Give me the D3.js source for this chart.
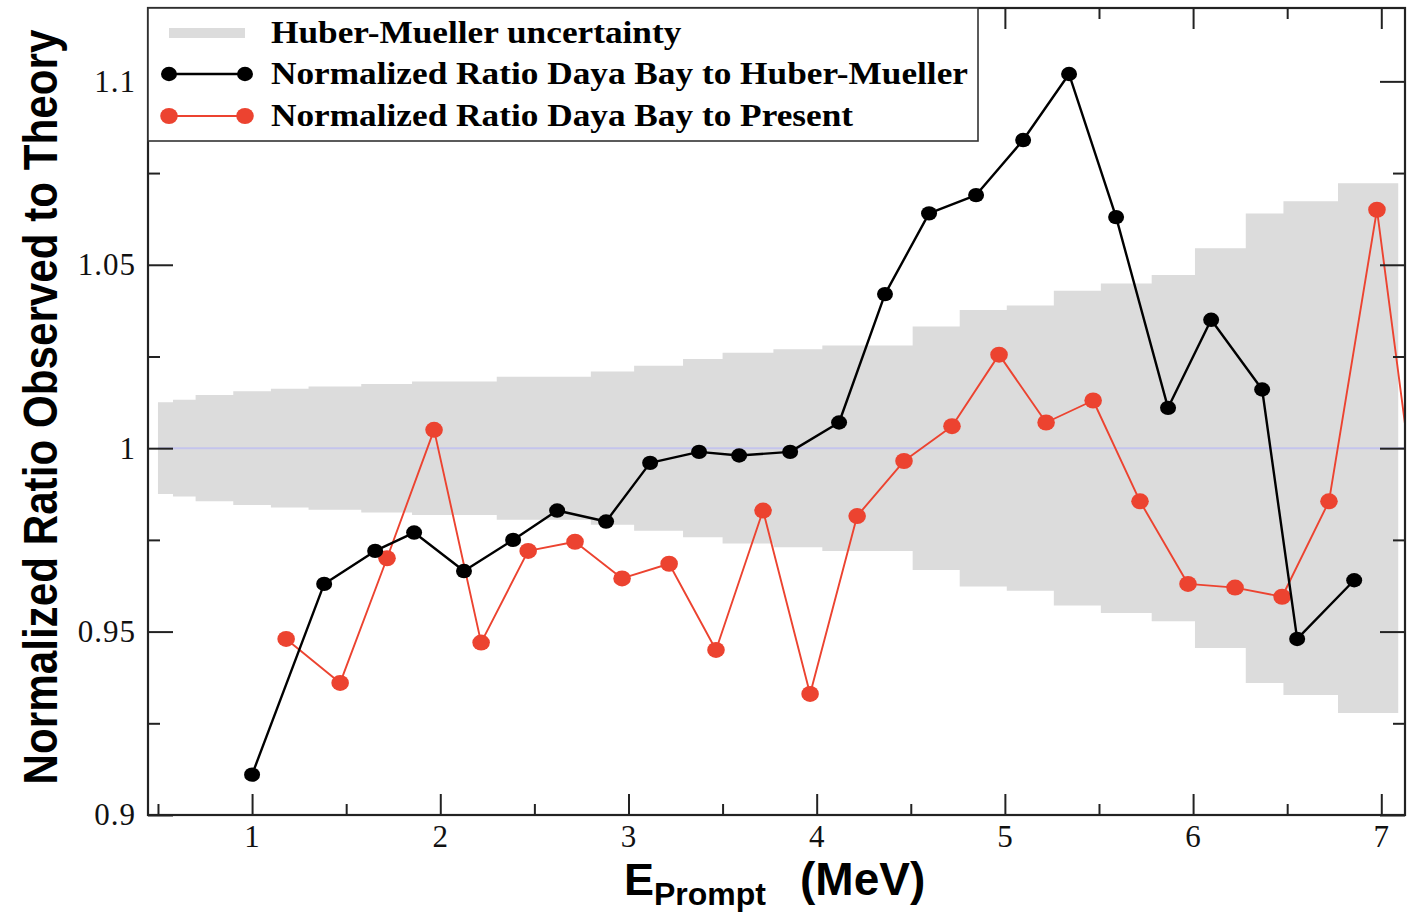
<!DOCTYPE html>
<html>
<head>
<meta charset="utf-8">
<script src="https://cdn.jsdelivr.net/npm/d3@7"></script>
<style>
  body { margin: 0; background: #fff; }
  svg { display: block; }
</style>
</head>
<body>
<svg id="chart" width="1409" height="912"></svg>
<script>
// Normalized ratio Daya Bay / Huber-Mueller (black)
const hmEnergy = [1.00, 1.383, 1.654, 1.861, 2.126, 2.387, 2.621, 2.881, 3.115, 3.375, 3.588, 3.859,
                  4.119, 4.363, 4.597, 4.847, 5.097, 5.341, 5.591, 5.867, 6.096, 6.367, 6.553, 6.856];
const hmRatio  = [0.911, 0.963, 0.972, 0.977, 0.9665, 0.975, 0.983, 0.980, 0.996, 0.999, 0.998, 0.999,
                  1.007, 1.042, 1.064, 1.069, 1.084, 1.102, 1.063, 1.011, 1.035, 1.016, 0.948, 0.964];

// Normalized ratio Daya Bay / present calculation (red)
const prEnergy = [1.181, 1.468, 1.717, 1.967, 2.217, 2.467, 2.716, 2.966, 3.216, 3.465, 3.715, 3.965,
                  4.215, 4.464, 4.719, 4.969, 5.219, 5.469, 5.718, 5.973, 6.223, 6.473, 6.722, 6.977, 7.227];
const prRatio  = [0.948, 0.936, 0.970, 1.005, 0.947, 0.972, 0.9745, 0.9645, 0.9685, 0.945, 0.983, 0.933,
                  0.9815, 0.9965, 1.006, 1.0255, 1.007, 1.013, 0.9855, 0.963, 0.962, 0.9595, 0.9855, 1.065, 0.967];

// Huber-Mueller uncertainty band: bin edges (MeV) and half-widths
const bandEdges = [0.50, 0.58, 0.70, 0.90, 1.10, 1.30, 1.58, 1.85, 2.30, 2.80, 3.03, 3.29, 3.50, 3.77,
                   4.03, 4.51, 4.76, 5.01, 5.26, 5.51, 5.78, 6.01, 6.28, 6.48, 6.77, 7.09];
const bandHalf  = [0.0125, 0.0132, 0.0145, 0.0155, 0.0162, 0.0168, 0.0175, 0.0182, 0.0195, 0.0209,
                   0.0225, 0.0243, 0.0260, 0.0270, 0.0280, 0.0332, 0.0377, 0.0389, 0.0429, 0.0449,
                   0.0472, 0.0545, 0.0640, 0.0673, 0.0722];

const xMajor = [1, 2, 3, 4, 5, 6, 7];
const xMinor = [0.5, 1.5, 2.5, 3.5, 4.5, 5.5, 6.5];
const yMajor = [0.9, 0.95, 1.0, 1.05, 1.1];
const yMinor = [0.925, 0.975, 1.025, 1.075];
const yTickText = ["0.9", "0.95", "1", "1.05", "1.1"];

const legendLabels = [
  "Huber-Mueller uncertainty",
  "Normalized Ratio Daya Bay to Huber-Mueller",
  "Normalized Ratio Daya Bay to Present"
];

const RED = "#ec4330";
const svg = d3.select("#chart");
const L = 148, R = 1405, T = 8, B = 815;

const x = d3.scaleLinear().domain([0.447, 7.126]).range([L, R]);
const y = d3.scaleLinear().domain([0.9, 1.12]).range([B, T]);

svg.append("defs").append("clipPath").attr("id", "plotClip")
  .append("rect").attr("x", L).attr("y", T).attr("width", R - L).attr("height", B - T);

const plot = svg.append("g").attr("clip-path", "url(#plotClip)");

// uncertainty band as a step area
const bandPts = bandHalf.map((h, i) => ({ e: bandEdges[i], h }));
bandPts.push({ e: bandEdges[bandEdges.length - 1], h: bandHalf[bandHalf.length - 1] });
plot.append("path")
  .datum(bandPts)
  .attr("fill", "#dcdcdc")
  .attr("d", d3.area().curve(d3.curveStepAfter)
    .x(d => x(d.e)).y0(d => y(1 - d.h)).y1(d => y(1 + d.h)));

// unity reference line
plot.append("line")
  .attr("x1", x(0.5)).attr("x2", R)
  .attr("y1", y(1)).attr("y2", y(1))
  .attr("stroke", "#c4c4ec").attr("stroke-width", 2);

function drawSeries(xs, ys, color, width, r) {
  const pts = xs.map((e, i) => [e, ys[i]]);
  plot.append("path").datum(pts)
    .attr("fill", "none").attr("stroke", color).attr("stroke-width", width)
    .attr("stroke-linejoin", "round")
    .attr("d", d3.line().x(d => x(d[0])).y(d => y(d[1])));
  plot.selectAll(null).data(pts).enter().append("ellipse")
    .attr("cx", d => x(d[0])).attr("cy", d => y(d[1]))
    .attr("rx", r + 0.8).attr("ry", r)
    .attr("fill", color);
}
drawSeries(prEnergy, prRatio, RED, 1.9, 8);
drawSeries(hmEnergy, hmRatio, "#000", 2.4, 7.2);

// axes with inward ticks on all four sides
const serif = "'Liberation Serif', 'Times New Roman', serif";
function styleAxis(g) {
  g.select(".domain").remove();
  g.selectAll(".tick line").attr("stroke", "#222").attr("stroke-width", 2);
  g.selectAll("text").attr("font-family", serif).attr("font-size", 31)
    .attr("letter-spacing", 1).attr("fill", "#111");
}

svg.append("g").attr("transform", `translate(0,${B})`)
  .call(d3.axisBottom(x).tickValues(xMajor).tickSize(-21).tickPadding(10).tickFormat(d3.format("d")))
  .call(styleAxis);
svg.append("g").attr("transform", `translate(0,${B})`)
  .call(d3.axisBottom(x).tickValues(xMinor).tickSize(-11).tickFormat(""))
  .call(styleAxis);
svg.append("g").attr("transform", `translate(0,${T})`)
  .call(d3.axisTop(x).tickValues(xMajor).tickSize(-21).tickFormat(""))
  .call(styleAxis);
svg.append("g").attr("transform", `translate(0,${T})`)
  .call(d3.axisTop(x).tickValues(xMinor).tickSize(-11).tickFormat(""))
  .call(styleAxis);

svg.append("g").attr("transform", `translate(${L},0)`)
  .call(d3.axisLeft(y).tickValues(yMajor).tickSize(-25).tickPadding(12)
    .tickFormat((d, i) => yTickText[i]))
  .call(styleAxis);
svg.append("g").attr("transform", `translate(${L},0)`)
  .call(d3.axisLeft(y).tickValues(yMinor).tickSize(-12).tickFormat(""))
  .call(styleAxis);
svg.append("g").attr("transform", `translate(${R},0)`)
  .call(d3.axisRight(y).tickValues(yMajor).tickSize(-25).tickFormat(""))
  .call(styleAxis);
svg.append("g").attr("transform", `translate(${R},0)`)
  .call(d3.axisRight(y).tickValues(yMinor).tickSize(-12).tickFormat(""))
  .call(styleAxis);

// frame
svg.append("rect")
  .attr("x", L).attr("y", T).attr("width", R - L).attr("height", B - T)
  .attr("fill", "none").attr("stroke", "#222").attr("stroke-width", 2.2);

// legend
const leg = svg.append("g");
leg.append("rect")
  .attr("x", L).attr("y", T).attr("width", 830).attr("height", 133)
  .attr("fill", "#fff").attr("stroke", "#333").attr("stroke-width", 1.6);
const legY = [33, 74, 116];
const sx1 = 169, sx2 = 245;
leg.append("rect").attr("x", sx1).attr("y", legY[0] - 5).attr("width", sx2 - sx1).attr("height", 10)
  .attr("fill", "#dcdcdc");
[[legY[1], "#000", 2.4, 7.2], [legY[2], RED, 1.9, 8]].forEach(([ly, c, w, r]) => {
  leg.append("line").attr("x1", sx1).attr("x2", sx2).attr("y1", ly).attr("y2", ly)
    .attr("stroke", c).attr("stroke-width", w);
  [sx1, sx2].forEach(cx => leg.append("ellipse").attr("cx", cx).attr("cy", ly)
    .attr("rx", r + 0.8).attr("ry", r).attr("fill", c));
});
const legText = leg.selectAll("text.leg").data(legendLabels).enter().append("text")
  .attr("class", "leg")
  .attr("x", 271).attr("y", (d, i) => legY[i] + 10)
  .attr("font-family", serif).attr("font-weight", "bold").attr("font-size", 32.5)
  .attr("fill", "#000")
  .text(d => d);
// widen the legend lettering slightly
legText.each(function () {
  const w = this.getComputedTextLength();
  d3.select(this).attr("textLength", w * 1.085).attr("lengthAdjust", "spacingAndGlyphs");
});

// axis titles: tall, condensed lettering for the vertical title
const sansBold = "'Liberation Sans Narrow', 'Liberation Sans', Arial, sans-serif";
svg.append("text")
  .attr("transform", "translate(57,407) rotate(-90) scale(1,1.2)")
  .attr("text-anchor", "middle")
  .attr("font-family", sansBold).attr("font-weight", "bold").attr("font-size", 40)
  .attr("textLength", 755).attr("lengthAdjust", "spacingAndGlyphs")
  .attr("fill", "#000")
  .text("Normalized Ratio Observed to Theory");

const xt = svg.append("text")
  .attr("x", 624).attr("y", 895)
  .attr("font-family", "'Liberation Sans', Arial, sans-serif").attr("font-weight", "bold")
  .attr("fill", "#000");
xt.append("tspan").attr("font-size", 45).text("E");
xt.append("tspan").attr("font-size", 32).attr("dy", 10).text("Prompt");
xt.append("tspan").attr("font-size", 46).attr("dy", -10).attr("x", 800).text("(MeV)");
</script>
</body>
</html>
